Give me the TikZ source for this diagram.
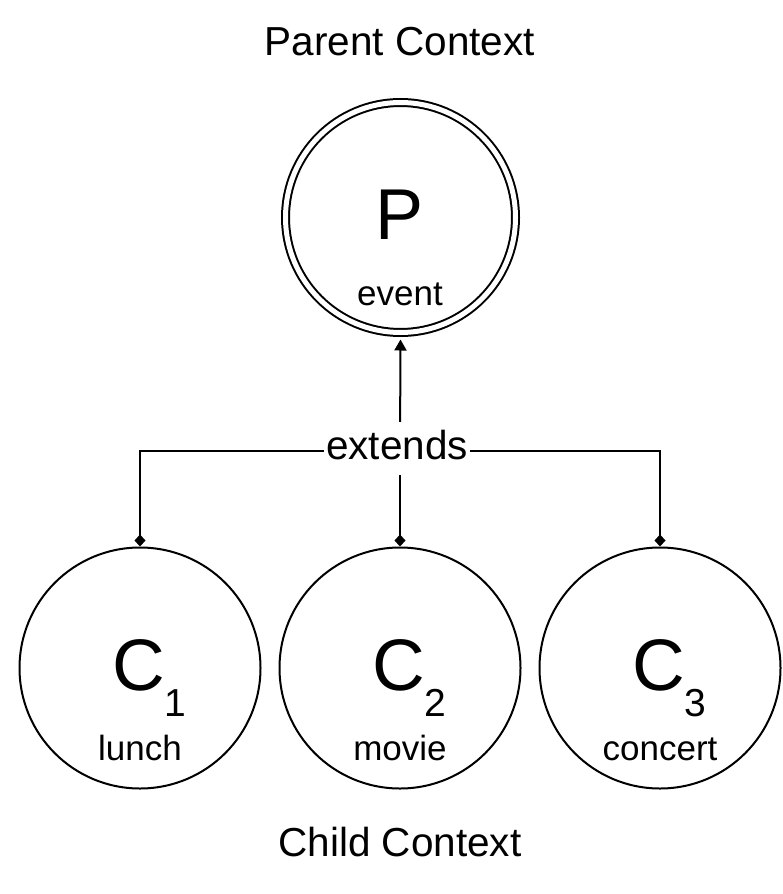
\documentclass[tikz,border=0pt]{standalone}
\usepackage{fontspec}
\setmainfont{Liberation Sans}
\usetikzlibrary{arrows.meta}
\newcommand{\fsz}[1]{\fontsize{#1}{#1}\selectfont}
\begin{document}
\begin{tikzpicture}[x=1pt,y=-1pt,
  ctx/.style={circle,draw,line width=2pt,minimum size=241pt,inner sep=0pt},
  pctx/.style={circle,draw,line width=2pt,double=white,double distance=5pt,minimum size=230pt,inner sep=0pt,outer sep=7pt},
  bigtxt/.style={inner sep=0pt,font=\fsz{73}},
  smalltxt/.style={inner sep=0pt,anchor=base,font=\fsz{35}},
  heading/.style={inner sep=0pt,anchor=base,font=\fsz{40.5}},
  conn/.style={line width=2pt},
  dia/.style={{Diamond[length=12pt,width=11pt]}-},
  tri/.style={-{Triangle[length=11pt,width=12pt]}}
]
\useasboundingbox (0,0) rectangle (783,894);
\node[heading] (ptitle) at (400,55) {Parent Context};
\node[heading] (ctitle) at (400,856) {Child Context};

\node[pctx] (p) at (400.5,217.5) {};
\node[bigtxt,anchor=base,font=\fsz{72}] (pl) at (400,239) {P};
\node[smalltxt] (pn) at (400,305) {event};

\node[ctx] (c1) at (140,668) {};
\node[ctx] (c2) at (400,668) {};
\node[ctx] (c3) at (660,668) {};

\node[bigtxt,anchor=base west] (c1l) at (112,690) {C\raisebox{-26pt}{\fsz{39}1}};
\node[bigtxt,anchor=base west] (c2l) at (372,690) {C\raisebox{-26pt}{\fsz{39}2}};
\node[bigtxt,anchor=base west] (c3l) at (632,690) {C\raisebox{-26pt}{\fsz{39}3}};
\node[smalltxt] (c1n) at (140,760) {lunch};
\node[smalltxt] (c2n) at (400,760) {movie};
\node[smalltxt] (c3n) at (660,760) {concert};

\coordinate (j) at (400,451);
\draw[conn,dia] (c1.north) |- (j);
\draw[conn,dia] (c3.north) |- (j);
\draw[conn,dia] (c2.north) -- (j);
\draw[conn,tri] (j) -- (p.south);
\node[fill=white,inner sep=0pt,minimum width=146pt,minimum height=53pt,text height=29pt,text depth=8pt,font=\fsz{40.5}] (ext) at (397,448.5) {extends};
\end{tikzpicture}
\end{document}
